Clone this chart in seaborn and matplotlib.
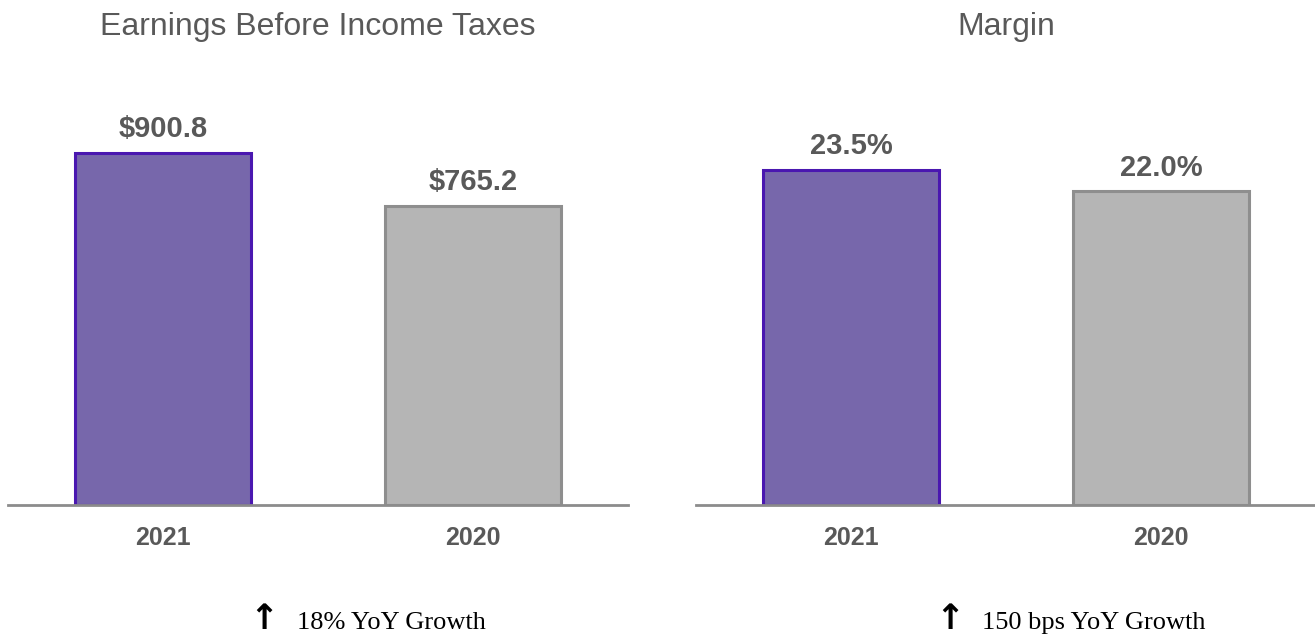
import matplotlib
matplotlib.use("Agg")
import matplotlib.pyplot as plt
import seaborn as sns
import pandas as pd

years = ["2021", "2020"]
ebit_values = [900.8, 765.2]
ebit_labels = ["$900.8", "$765.2"]
margin_values = [23.5, 22.0]
margin_labels = ["23.5%", "22.0%"]
titles = ["Earnings Before Income Taxes", "Margin"]
growth_notes = ["18% YoY Growth", "150 bps YoY Growth"]

sns.set_theme(style="white")
plt.rcParams['font.family'] = ['Liberation Sans', 'DejaVu Sans']

fill_colors = {"2021": "#7767AB", "2020": "#B5B5B5"}
edge_colors = ["#4A17B0", "#8E8E8E"]
text_gray = "#595959"
axis_gray = "#8C8C8C"

fig = plt.figure(figsize=(13.15, 6.36), dpi=100)
ax_w = 620 / 1315
ax_h = 405 / 636
bottom = (636 - 505) / 636
axes = [fig.add_axes([8 / 1315, bottom, ax_w, ax_h]),
        fig.add_axes([696 / 1315, bottom, ax_w, ax_h])]

datasets = [(ebit_values, ebit_labels, 1036.0), (margin_values, margin_labels, 28.41)]
note_x = [(0.413, 0.466), (0.41, 0.461)]

for i, (ax, (vals, labels, ymax)) in enumerate(zip(axes, datasets)):
    df = pd.DataFrame({"year": years, "value": vals})
    sns.barplot(data=df, x="year", y="value", hue="year", palette=fill_colors,
                legend=False, width=0.565, ax=ax, linewidth=2.2, saturation=1)
    for patch, ec in zip(ax.patches, edge_colors):
        patch.set_edgecolor(ec)
        patch.set_linewidth(2.2)
    for j, cont in enumerate(ax.containers):
        ax.bar_label(cont, labels=[labels[j]], padding=7, fontsize=21,
                     fontweight="bold", color=text_gray)
    ax.set_xlim(-0.5, 1.5)
    ax.set_ylim(0, ymax)
    ax.set_xlabel("")
    ax.set_ylabel("")
    ax.set_yticks([])
    for s in ["top", "right", "left"]:
        ax.spines[s].set_visible(False)
    ax.spines["bottom"].set_color(axis_gray)
    ax.spines["bottom"].set_linewidth(2)
    ax.tick_params(axis="x", length=0, pad=15, labelsize=18, labelcolor=text_gray)
    for t in ax.get_xticklabels():
        t.set_fontweight("bold")
    ax.set_title(titles[i], fontsize=23, color=text_gray, pad=47)
    ax.text(note_x[i][0], -0.306, "↑", transform=ax.transAxes, ha="center", va="baseline",
            fontsize=25, fontweight="bold", color="black", family=["DejaVu Sans"])
    ax.text(note_x[i][1], -0.306, growth_notes[i], transform=ax.transAxes, ha="left",
            va="baseline", fontsize=19, color="black", family=["Liberation Serif", "DejaVu Serif"])

fig.savefig("out.png", dpi=100)
